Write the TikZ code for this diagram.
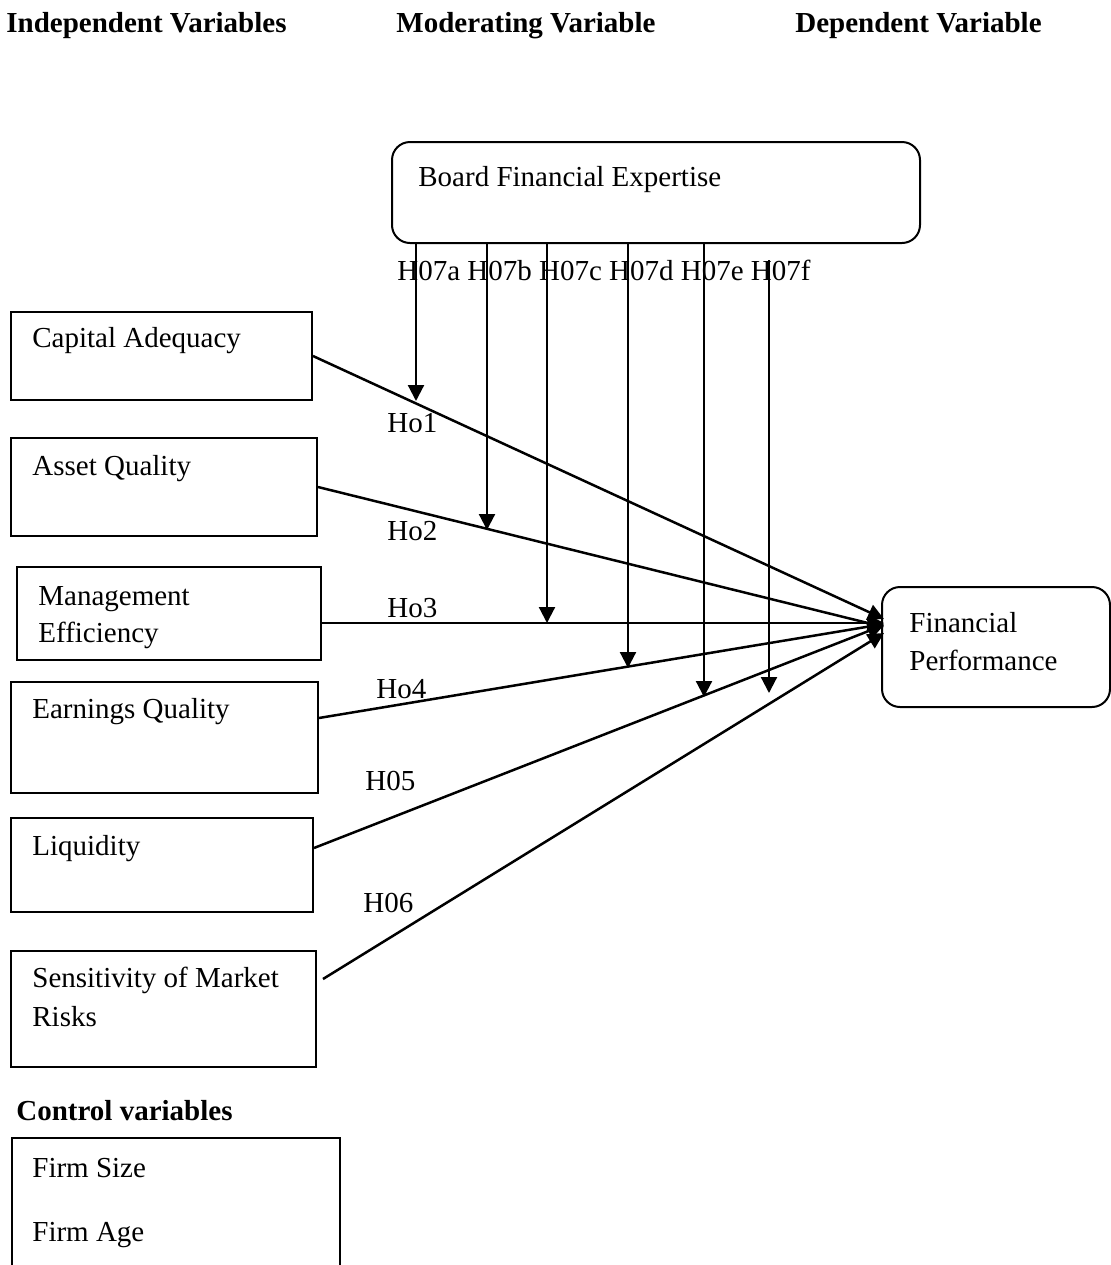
\documentclass[tikz,border=0pt]{standalone}
\usepackage{fontspec}
\setmainfont{Liberation Serif}
\usetikzlibrary{arrows.meta,calc}
\tikzset{
  box/.style={draw, line width=1pt, inner sep=0pt},
  rbox/.style={draw, line width=1pt, inner sep=0pt, rounded corners=9pt},
  txt/.style={anchor=base west, inner sep=0pt, font=\fontsize{14.5pt}{17pt}\selectfont},
  head/.style={anchor=base west, inner sep=0pt, font=\fontsize{14.5pt}{17pt}\selectfont\bfseries},
  arr/.style={line width=1.25pt, -{Triangle[length=8pt,width=8pt]}},
  vline/.style={line width=1.1pt, -{Triangle[length=8pt,width=8pt]}}
}
\begin{document}
\begin{tikzpicture}[x=0.5pt,y=-0.5pt]
\useasboundingbox (0,0) rectangle (1111,1265);

% headers
\node[head] (h1) at (6,32) {Independent Variables};
\node[head] (h2) at (396,32) {Moderating Variable};
\node[head] (h3) at (795,32) {Dependent Variable};

% moderator
\node[rbox, minimum width=264pt, minimum height=50.5pt] (bfe) at (656,192.5) {};
\node[txt] (bfet) at (418,186) {Board Financial Expertise};
\node[txt] (hlab) at (397,280) {H07a H07b H07c H07d H07e H07f};

% dependent
\node[rbox, minimum width=114pt, minimum height=60pt] (fp) at (996,647) {};
\node[txt] (fpt1) at (909,632) {Financial};
\node[txt] (fpt2) at (909,670) {Performance};

% independent boxes
\node[box, minimum width=150.5pt, minimum height=44pt] (ca) at (161.5,356) {};
\node[txt] (cat) at (32,347) {Capital Adequacy};
\node[box, minimum width=153pt, minimum height=49pt] (aq) at (164,487) {};
\node[txt] (aqt) at (32,475) {Asset Quality};
\node[box, minimum width=152pt, minimum height=46.5pt] (me) at (169,613.5) {};
\node[txt] (met1) at (38,605) {Management};
\node[txt] (met2) at (38,642) {Efficiency};
\node[box, minimum width=153.5pt, minimum height=55.5pt] (eq) at (164.5,737.5) {};
\node[txt] (eqt) at (32,718) {Earnings Quality};
\node[box, minimum width=151pt, minimum height=47pt] (liq) at (162,865) {};
\node[txt] (liqt) at (32,855) {Liquidity};
\node[box, minimum width=152.5pt, minimum height=58pt] (smr) at (163.5,1009) {};
\node[txt] (smrt1) at (32,987) {Sensitivity of Market};
\node[txt] (smrt2) at (32,1026) {Risks};

% control variables
\node[head] (cvh) at (16,1120) {Control variables};
\node[box, minimum width=164pt, minimum height=76pt] (cv) at (176,1214) {};
\node[txt] (cv1) at (32,1177) {Firm Size};
\node[txt] (cv2) at (32,1241) {Firm Age};

% hypothesis labels
\node[txt] (l1) at (387,432) {Ho1};
\node[txt] (l2) at (387,540) {Ho2};
\node[txt] (l3) at (387,617) {Ho3};
\node[txt] (l4) at (376,698) {Ho4};
\node[txt] (l5) at (365,790) {H05};
\node[txt] (l6) at (363,912) {H06};

% arrow targets on Financial Performance
\coordinate (t1) at (884,619);
\coordinate (t2) at (884,627);
\coordinate (t3) at (884,623);
\coordinate (t4) at (884,624);
\coordinate (t5) at (884,625);
\coordinate (t6) at (884,633);

\draw[arr] (ca.east) -- (t1);
\draw[arr] (aq.east) -- (t2);
\draw[arr] (me.east |- t3) -- (t3);
\draw[arr] ($(eq.north east)+(0,37)$) -- (t4);
\draw[arr] ($(liq.north east)+(0,31)$) -- (t5);
\draw[arr] ($(smr.north east)+(6,29)$) -- (t6);

% moderating arrows
\coordinate (ea) at (416,401);
\coordinate (eb) at (487,530);
\coordinate (ec) at (547,623);
\coordinate (ed) at (628,668);
\coordinate (ee) at (704,697);
\coordinate (ef) at (769,693);
\coordinate (sf) at (769,260);
\draw[vline] (bfe.south -| ea) -- (ea);
\draw[vline] (bfe.south -| eb) -- (eb);
\draw[vline] (bfe.south -| ec) -- (ec);
\draw[vline] (bfe.south -| ed) -- (ed);
\draw[vline] (bfe.south -| ee) -- (ee);
\draw[vline] (sf) -- (ef);
\end{tikzpicture}
\end{document}
